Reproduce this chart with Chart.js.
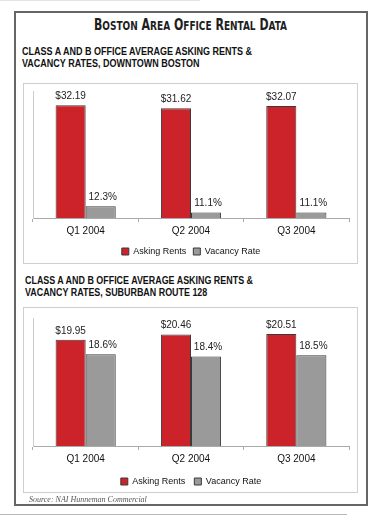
<!DOCTYPE html>
<html>
<head>
<meta charset="utf-8">
<script src="https://cdn.jsdelivr.net/npm/chart.js@4"></script>
<style>
  html, body { margin:0; padding:0; background:#fff; }
  body { width:378px; height:516px; position:relative; overflow:hidden; font-family:"Liberation Sans", Arial, sans-serif; }
  .outer { position:absolute; left:14px; top:11px; width:350px; height:491px; border:2px solid #666; box-sizing:content-box; }
  .title { position:absolute; left:94px; top:15px; white-space:nowrap; font-family:"DejaVu Sans Condensed","DejaVu Sans",sans-serif; font-stretch:condensed; font-weight:bold; font-size:15px; color:#1e1e1e; line-height:20px; transform-origin:0 0; }
  .title .sc { font-size:12.3px; text-transform:uppercase; }
  .sub { position:absolute; font-weight:bold; font-size:10px; color:#111; white-space:nowrap; transform-origin:0 0; }
  .box { position:absolute; border:1px solid #cfcfcf; background:#fff; }
  .box canvas { position:absolute; left:0; top:0; }
  .source { position:absolute; left:29px; top:495px; font-family:"Liberation Serif","Times New Roman",serif; font-style:italic; font-size:8px; color:#555; white-space:nowrap; }
  .topline { position:absolute; left:0; top:0; width:200px; height:1px; background:#e4e4e4; }
  .botline { position:absolute; left:0; top:514px; width:347px; height:1px; background:#b8b8b8; }
</style>
</head>
<body>
<div class="topline"></div>
<div class="outer"></div>
<div class="title" id="title">B<span class="sc">oston</span> A<span class="sc">rea</span> O<span class="sc">ffice</span> R<span class="sc">ental</span> D<span class="sc">ata</span></div>
<div class="sub" id="sub1" style="left:22px; top:46px; line-height:12px;">CLASS A AND B OFFICE AVERAGE ASKING RENTS &amp;<br>VACANCY RATES, DOWNTOWN BOSTON</div>
<div class="box" style="left:23px; top:83px; width:333px; height:179px;"><canvas id="c1" width="333" height="182"></canvas></div>
<div class="sub" id="sub2" style="left:25px; top:275px; line-height:11.5px;">CLASS A AND B OFFICE AVERAGE ASKING RENTS &amp;<br>VACANCY RATES, SUBURBAN ROUTE 128</div>
<div class="box" style="left:23px; top:307px; width:333px; height:184px;"><canvas id="c2" width="333" height="188"></canvas></div>
<div class="source">Source: NAI Hunneman Commercial</div>
<div class="botline"></div>
<script>
// ---- data ----
const categories = ["Q1 2004", "Q2 2004", "Q3 2004"];
const seriesNames = ["Asking Rents", "Vacancy Rate"];
const downtownRents = [32.19, 31.62, 32.07];
const downtownVacancy = [12.3, 11.1, 11.1];
const suburbanRents = [19.95, 20.46, 20.51];
const suburbanVacancy = [18.6, 18.4, 18.5];
const downtownAxis = [10, 35];
const suburbanAxis = [10, 22];

// fit headings to their widths in the reference
function fitWidth(id, target) {
  const el = document.getElementById(id);
  const w = el.getBoundingClientRect().width;
  el.style.transform = "scaleX(" + (target / w) + ")";
}
fitWidth("title", 193);
fitWidth("sub1", 230);
fitWidth("sub2", 228);

const RED = "#cc2229";
const GRAY = "#9a9a9a";
const EDGE = "#3a3a3a";

const labelPlugin = {
  id: "barLabels",
  afterDatasetsDraw(chart) {
    const ctx = chart.ctx;
    ctx.save();
    ctx.font = "10px 'Liberation Sans', Arial, sans-serif";
    ctx.fillStyle = "#222";
    ctx.textAlign = "center";
    ctx.textBaseline = "middle";
    chart.data.datasets.forEach((ds, di) => {
      const meta = chart.getDatasetMeta(di);
      meta.data.forEach((bar, i) => {
        const v = ds.data[i];
        const txt = di === 0 ? "$" + v.toFixed(2) : v.toFixed(1) + "%";
        ctx.fillText(txt, bar.x + (di === 1 ? 2 : 0), bar.y - 9);
      });
    });
    ctx.restore();
  }
};

function makeChart(id, rents, vacancy, axis, padTop, legendPad) {
  return new Chart(document.getElementById(id), {
    type: "bar",
    data: {
      labels: categories,
      datasets: [
        { label: seriesNames[0], data: rents, backgroundColor: RED, borderColor: EDGE, borderWidth: 1 },
        { label: seriesNames[1], data: vacancy, backgroundColor: GRAY, borderColor: EDGE, borderWidth: 1 }
      ]
    },
    options: {
      responsive: false,
      animation: false,
      devicePixelRatio: 1,
      categoryPercentage: 0.571,
      barPercentage: 1.0,
      layout: { padding: { left: 9, right: 8, top: padTop, bottom: 0 } },
      plugins: {
        tooltip: { enabled: false },
        legend: {
          position: "bottom",
          labels: {
            boxWidth: 7, boxHeight: 7, padding: legendPad,
            color: "#111",
            font: { family: "'Liberation Sans', Arial, sans-serif", size: 9 }
          }
        }
      },
      scales: {
        x: {
          grid: { display: true, drawOnChartArea: false, drawTicks: true, tickLength: 4, color: "#aaa" },
          border: { display: true, color: "#aaa" },
          ticks: { color: "#111", padding: 3, font: { family: "'Liberation Sans', Arial, sans-serif", size: 10 } }
        },
        y: {
          min: axis[0], max: axis[1],
          grid: { display: false },
          border: { display: true, color: "#ccc" },
          ticks: { display: false },
          afterFit(scale) { scale.width = 0; }
        }
      }
    },
    plugins: [labelPlugin]
  });
}

makeChart("c1", downtownRents, downtownVacancy, downtownAxis, 7, 7);
makeChart("c2", suburbanRents, suburbanVacancy, suburbanAxis, 10, 9);
</script>
</body>
</html>
